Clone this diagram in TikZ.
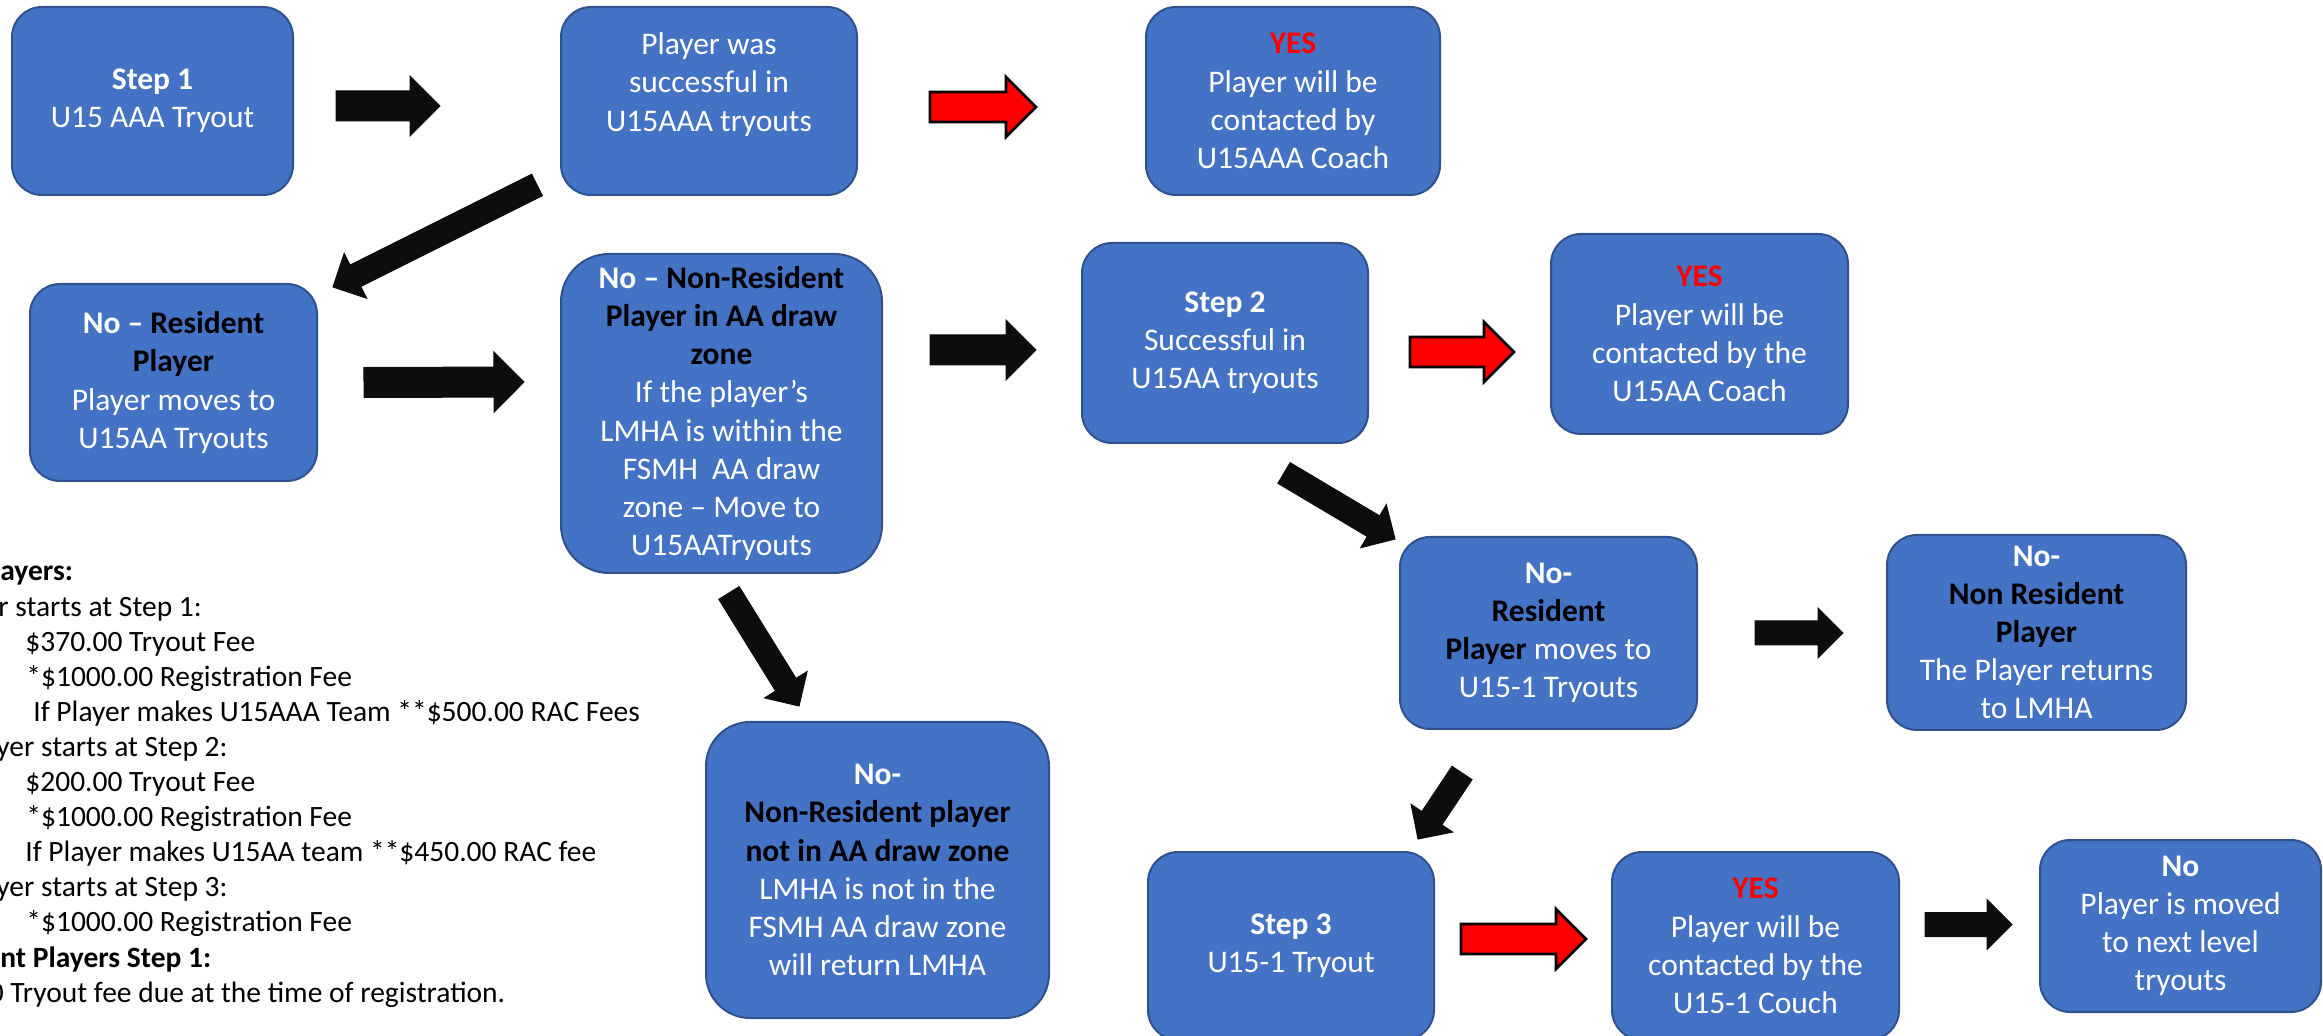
\documentclass[tikz,border=0pt]{standalone}
\usepackage{fontspec}
\setmainfont{Carlito}
\usepackage{tikz}
\usetikzlibrary{calc}

\definecolor{boxblue}{HTML}{4472C4}
\definecolor{boxline}{HTML}{2F528F}
\definecolor{arrowblack}{HTML}{0D0D0D}
\definecolor{yesred}{HTML}{FF0000}

\newcommand{\yes}{\textcolor{yesred}{\textbf{YES}}}
\newcommand{\dark}[1]{\textcolor{black}{\textbf{#1}}}

% block arrow: size style, paint style, tail, tip
\newcommand{\blockarrow}[4]{%
  \begin{scope}[#1]
    \coordinate (bt) at (#3);
    \coordinate (bp) at (#4);
    \coordinate (bh) at ($(bp)!\hl!(bt)$);
    \filldraw[#2] ($(bt)!\hs!90:(bp)$) -- ($(bh)!\hs!90:(bp)$) -- ($(bh)!\hh!90:(bp)$) -- (bp)
      -- ($(bh)!\hh!-90:(bp)$) -- ($(bh)!\hs!-90:(bp)$) -- ($(bt)!\hs!-90:(bp)$) -- cycle;
  \end{scope}}

\tikzset{
  box/.style={draw=boxline, fill=boxblue, line width=1pt, rounded corners=15pt,
    align=center, text=white, inner sep=0pt, font=\fontsize{15.75}{19.1}\selectfont},
  fat/.code={\def\hs{7.5pt}\def\hh{15pt}\def\hl{15pt}},
  slim/.code={\def\hs{6pt}\def\hh{12.5pt}\def\hl{12.5pt}},
  blackarrow/.style={fill=arrowblack, draw=arrowblack, line width=0.5pt},
  redarrow/.style={fill=yesred, draw=black, line width=1.3pt},
  fees/.style={align=left, inner sep=0pt, font=\fontsize{14.75}{17.55}\selectfont}
}

\begin{document}
\begin{tikzpicture}[x=0.5pt, y=-0.5pt]
  \useasboundingbox (0,0) rectangle (2323,1036);

  % first row
  \node[box, minimum width=140.5pt, minimum height=94pt] (step1) at (152.5,101)
    {\textbf{Step 1}\\U15 AAA Tryout};
  \node[box, minimum width=148pt, minimum height=94pt] (success) at (709,101)
    {Player was\\successful in\\U15AAA tryouts\\\mbox{}};
  \node[box, minimum width=147pt, minimum height=94pt] (yes1) at (1293,101)
    {\yes\\Player will be\\contacted by\\U15AAA Coach};

  % second row
  \node[box, minimum width=143.5pt, minimum height=98.5pt] (nores) at (173.5,382.5)
    {\textbf{No –} \dark{Resident}\\\dark{Player}\\Player moves to\\U15AA Tryouts};
  \node[box, minimum width=160.5pt, minimum height=159.5pt, rounded corners=24pt] (inzone) at (721.5,413.5)
    {\textbf{No –} \dark{Non-Resident}\\\dark{Player in AA draw}\\\dark{zone}\\If the player’s\\LMHA is within the\\FSMH\ \ AA draw\\zone – Move to\\U15AATryouts};
  \node[box, minimum width=143pt, minimum height=100pt] (step2) at (1225,343)
    {\textbf{Step 2}\\Successful in\\U15AA tryouts};
  \node[box, minimum width=148.5pt, minimum height=100pt] (yes2) at (1699.5,334)
    {\yes\\Player will be\\contacted by the\\U15AA Coach};

  % third row
  \node[box, minimum width=148.5pt, minimum height=96pt] (nores2) at (1548.5,633)
    {\textbf{No-}\\\dark{Resident}\\\dark{Player} moves to\\U15-1 Tryouts};
  \node[box, minimum width=149.5pt, minimum height=97.5pt] (nonres2) at (2036.5,632.5)
    {\textbf{No-}\\\dark{Non Resident}\\\dark{Player}\\The Player returns\\to LMHA};
  \node[box, minimum width=171.5pt, minimum height=148pt, rounded corners=22pt] (outzone) at (877.5,870)
    {\textbf{No-}\\\dark{Non-Resident player}\\\dark{not in AA draw zone}\\LMHA is not in the\\FSMH AA draw zone\\will return LMHA};
  \node[box, minimum width=143pt, minimum height=94pt] (step3) at (1291,946)
    {\textbf{Step 3}\\U15-1 Tryout};
  \node[box, minimum width=143.5pt, minimum height=94pt] (yes3) at (1755.5,946)
    {\yes\\Player will be\\contacted by the\\U15-1 Couch};
  \node[box, minimum width=140.5pt, minimum height=86pt] (no3) at (2180.5,926)
    {\textbf{No}\\Player is moved\\to next level\\tryouts};

  % fees
  \node[fees, anchor=north west] (fees) at (0,556)
    {\strut\textbf{ayers:}\\
     \hspace*{-1pt}r starts at Step 1:\\
     \hspace*{12.5pt}\$370.00 Tryout Fee\\
     \hspace*{13pt}*\$1000.00 Registration Fee\\
     \hspace*{16.5pt}If Player makes U15AAA Team **\$500.00 RAC Fees\\
     \hspace*{-2pt}yer starts at Step 2:\\
     \hspace*{12.5pt}\$200.00 Tryout Fee\\
     \hspace*{13pt}*\$1000.00 Registration Fee\\
     \hspace*{12.5pt}If Player makes U15AA team **\$450.00 RAC fee\\
     \hspace*{-2pt}yer starts at Step 3:\\
     \hspace*{13pt}*\$1000.00 Registration Fee\\
     \textbf{nt Players Step 1:}\\
     \hspace*{-5.8pt}0 Tryout fee due at the time of registration.};

  % arrows
  \blockarrow{fat}{blackarrow}{$(step1.east)+(42,5)$}{$(success.west)+(-120,5)$}
  \blockarrow{fat}{redarrow}{$(success.east)+(72,6)$}{$(yes1.west)+(-109,6)$}
  \blockarrow{slim}{blackarrow}{$(success.south west)+(-23,-11)$}{$(nores.north east)+(15,4)$}
  \blockarrow{fat}{blackarrow}{$(nores.east)+(46,0)$}{$(inzone.west)+(-36,-31.5)$}
  \blockarrow{fat}{blackarrow}{$(inzone.east)+(47,-63.5)$}{$(step2.west)+(-45,7)$}
  \blockarrow{fat}{redarrow}{$(step2.east)+(41,9)$}{$(yes2.west)+(-36,18)$}
  \blockarrow{slim}{blackarrow}{$(step2.south east)+(-85,29)$}{$(nores2.north west)+(-4,3)$}
  \blockarrow{slim}{blackarrow}{$(inzone.south)+(7.5,19)$}{$(outzone.north)+(-78.5,-15)$}
  \blockarrow{slim}{blackarrow}{$(nores2.east)+(57,0)$}{$(nonres2.west)+(-43,0.5)$}
  \blockarrow{slim}{blackarrow}{$(nores2.south)+(-86.5,43)$}{$(step3.north east)+(-17,-12)$}
  \blockarrow{fat}{redarrow}{$(step3.east)+(26,-7)$}{$(yes3.west)+(-25,-7)$}
  \blockarrow{slim}{blackarrow}{$(yes3.east)+(25,-21.5)$}{$(no3.west)+(-27,-1.5)$}
\end{tikzpicture}
\end{document}
